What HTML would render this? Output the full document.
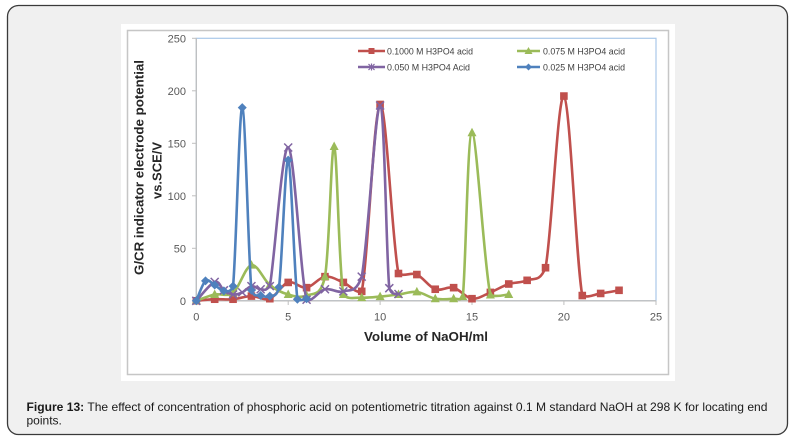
<!DOCTYPE html>
<html>
<head>
<meta charset="utf-8">
<style>
  html,body{margin:0;padding:0;background:#ffffff;}
  body{width:795px;height:439px;overflow:hidden;}
  svg{display:block;}
  text{font-family:"Liberation Sans",Arial,sans-serif;}
</style>
</head>
<body>
<svg id="chart" width="795" height="439" viewBox="0 0 795 439" xmlns="http://www.w3.org/2000/svg">
  <!-- outer card -->
  <rect x="7.5" y="5.5" width="780" height="429" rx="11" ry="11" fill="#f0f0f0" stroke="#3a3a3a" stroke-width="1.3"/>
  <!-- chart image area -->
  <rect x="121" y="24" width="554" height="357" fill="#ffffff"/>
  <rect x="127.5" y="30.5" width="541" height="344" fill="none" stroke="#c6c6c6" stroke-width="1.5"/>

  <!-- plot area -->
  <rect x="196.3" y="38.3" width="459.7" height="262.5" fill="none" stroke="#a9c8ea" stroke-width="1.2"/>
  <line x1="196.3" y1="38.3" x2="196.3" y2="300.8" stroke="#bfbfbf" stroke-width="1.3"/>
  <line x1="196.3" y1="300.8" x2="656" y2="300.8" stroke="#bfbfbf" stroke-width="1.3"/>

  <!-- ticks -->
  <g stroke="#bfbfbf" stroke-width="1">
    <line x1="192" y1="38.3" x2="196.3" y2="38.3"/>
    <line x1="192" y1="90.8" x2="196.3" y2="90.8"/>
    <line x1="192" y1="143.3" x2="196.3" y2="143.3"/>
    <line x1="192" y1="195.8" x2="196.3" y2="195.8"/>
    <line x1="192" y1="248.3" x2="196.3" y2="248.3"/>
    <line x1="192" y1="300.8" x2="196.3" y2="300.8"/>
    <line x1="196.3" y1="300.8" x2="196.3" y2="305"/>
    <line x1="288.2" y1="300.8" x2="288.2" y2="305"/>
    <line x1="380.1" y1="300.8" x2="380.1" y2="305"/>
    <line x1="472" y1="300.8" x2="472" y2="305"/>
    <line x1="563.9" y1="300.8" x2="563.9" y2="305"/>
    <line x1="656" y1="300.8" x2="656" y2="305"/>
  </g>

  <!-- y labels -->
  <g font-size="11" fill="#595959" text-anchor="end">
    <text x="186" y="42.3">250</text>
    <text x="186" y="94.8">200</text>
    <text x="186" y="147.3">150</text>
    <text x="186" y="199.8">100</text>
    <text x="186" y="252.3">50</text>
    <text x="186" y="304.8">0</text>
  </g>
  <!-- x labels -->
  <g font-size="11" fill="#595959" text-anchor="middle">
    <text x="196.3" y="320.5">0</text>
    <text x="288.2" y="320.5">5</text>
    <text x="380.1" y="320.5">10</text>
    <text x="472" y="320.5">15</text>
    <text x="563.9" y="320.5">20</text>
    <text x="656" y="320.5">25</text>
  </g>

  <!-- axis titles -->
  <text x="364" y="341" font-size="13" font-weight="bold" fill="#262626" textLength="124" lengthAdjust="spacingAndGlyphs">Volume of NaOH/ml</text>
  <text transform="translate(143.5,167.5) rotate(-90)" text-anchor="middle" font-size="13" font-weight="bold" fill="#262626" textLength="215" lengthAdjust="spacingAndGlyphs">G/CR indicator electrode potential</text>
  <text transform="translate(161.5,170.5) rotate(-90)" text-anchor="middle" font-size="13" font-weight="bold" fill="#262626" textLength="57" lengthAdjust="spacingAndGlyphs">vs.SCE/V</text>

  <!-- legend -->
  <g font-size="9" fill="#404040">
    <line x1="358" y1="51" x2="385" y2="51" stroke="#c0504d" stroke-width="2.5"/>
    <rect x="368.5" y="48" width="6" height="6" fill="#c0504d"/>
    <text x="387" y="54.5" textLength="86" lengthAdjust="spacingAndGlyphs">0.1000 M H3PO4 acid</text>

    <line x1="517" y1="51" x2="540" y2="51" stroke="#9bbb59" stroke-width="2.5"/>
    <polygon points="528.5,47 532.5,54 524.5,54" fill="#9bbb59"/>
    <text x="543" y="54.5" textLength="82" lengthAdjust="spacingAndGlyphs">0.075 M H3PO4 acid</text>

    <line x1="358" y1="67" x2="385" y2="67" stroke="#8064a2" stroke-width="2.5"/>
    <path d="M368.5,64 L374.5,70 M374.5,64 L368.5,70 M371.5,63.5 L371.5,70.5" stroke="#8064a2" stroke-width="1.2" fill="none"/>
    <text x="387" y="70.5" textLength="83" lengthAdjust="spacingAndGlyphs">0.050 M H3PO4 Acid</text>

    <line x1="517" y1="67" x2="540" y2="67" stroke="#4f81bd" stroke-width="2.5"/>
    <polygon points="528.5,63.5 532,67 528.5,70.5 525,67" fill="#4f81bd"/>
    <text x="543" y="70.5" textLength="82" lengthAdjust="spacingAndGlyphs">0.025 M H3PO4 acid</text>
  </g>

  <g id="series"></g>

  <!-- caption -->
  <text x="26.5" y="411" font-size="12" fill="#1a1a1a" textLength="741" lengthAdjust="spacingAndGlyphs"><tspan font-weight="bold">Figure 13:</tspan> The effect of concentration of phosphoric acid on potentiometric titration against 0.1 M standard NaOH at 298 K for locating end</text>
  <text x="26.5" y="424.5" font-size="12" fill="#1a1a1a">points.</text>
</svg>
<script>
(function(){
  var NS="http://www.w3.org/2000/svg";
  function px(x){return 196.3+x*18.38;}
  function py(y){return 300.8-y*1.05;}
  var series=[
    {c:"#c0504d",m:"sq",d:[[0,0],[1,1.5],[2,1.5],[3,4.5],[4,2],[5,17.5],[6,12.5],[7,23],[8,17.5],[9,9],[10,187],[11,26],[12,25],[13,11],[14,12.5],[15,2],[16,8],[17,16],[18,19.5],[19,31.5],[20,195],[21,5],[22,7],[23,10]]},
    {c:"#9bbb59",m:"tri",d:[[0,0],[1,6],[2,7.5],[3,34],[4,15],[5,6],[6,5],[7,23],[7.5,147],[8,6],[9,3],[10,4],[11,6],[12,8.5],[13,2],[14,2],[14.5,4],[15,160],[16,5.5],[17,6]]},
    {c:"#8064a2",m:"x",d:[[0,0],[1,18],[1.5,10],[2,6],[2.5,8],[3,14],[3.5,11],[4,14],[5,146],[6,1],[7,11],[8,9],[9,23],[10,186],[10.5,12],[11,6.5]]},
    {c:"#4f81bd",m:"dia",d:[[0,0],[0.5,19],[1,15],[1.5,9.5],[2,14],[2.5,184],[3,10],[3.5,5],[4,4.5],[4.5,13],[5,134],[5.5,1.5],[6,2]]}
  ];
  function clamp(v,a,b,m){var lo=Math.min(a,b)-m,hi=Math.max(a,b)+m;return Math.max(lo,Math.min(hi,v));}
  var g=document.getElementById("series");
  series.forEach(function(s){
    var p=s.d.map(function(a){return [px(a[0]),py(a[1])];});
    var d="M"+p[0][0].toFixed(2)+","+p[0][1].toFixed(2);
    for(var i=0;i<p.length-1;i++){
      var p0=p[i-1]||p[i],p1=p[i],p2=p[i+1],p3=p[i+2]||p[i+1];
      var c1x=p1[0]+(p2[0]-p0[0])/6,c1y=p1[1]+(p2[1]-p0[1])/6;
      var c2x=p2[0]-(p3[0]-p1[0])/6,c2y=p2[1]-(p3[1]-p1[1])/6;
      c1y=clamp(c1y,p1[1],p2[1],2.5);
      c2y=clamp(c2y,p1[1],p2[1],2.5);
      d+=" C"+c1x.toFixed(2)+","+c1y.toFixed(2)+" "+c2x.toFixed(2)+","+c2y.toFixed(2)+" "+p2[0].toFixed(2)+","+p2[1].toFixed(2);
    }
    var path=document.createElementNS(NS,"path");
    path.setAttribute("d",d);path.setAttribute("fill","none");
    path.setAttribute("stroke",s.c);path.setAttribute("stroke-width","2.6");
    path.setAttribute("stroke-linejoin","round");path.setAttribute("stroke-linecap","round");
    g.appendChild(path);
    p.forEach(function(q){
      var x=q[0],y=q[1],e;
      if(s.m==="sq"){
        e=document.createElementNS(NS,"rect");
        e.setAttribute("x",x-3.8);e.setAttribute("y",y-3.8);
        e.setAttribute("width",7.6);e.setAttribute("height",7.6);
        e.setAttribute("fill",s.c);
      }else if(s.m==="tri"){
        e=document.createElementNS(NS,"polygon");
        e.setAttribute("points",x+","+(y-5)+" "+(x+4.5)+","+(y+3.5)+" "+(x-4.5)+","+(y+3.5));
        e.setAttribute("fill",s.c);
      }else if(s.m==="dia"){
        e=document.createElementNS(NS,"polygon");
        e.setAttribute("points",x+","+(y-4.5)+" "+(x+4.5)+","+y+" "+x+","+(y+4.5)+" "+(x-4.5)+","+y);
        e.setAttribute("fill",s.c);
      }else{
        e=document.createElementNS(NS,"path");
        e.setAttribute("d","M"+(x-4)+","+(y-4)+" L"+(x+4)+","+(y+4)+" M"+(x+4)+","+(y-4)+" L"+(x-4)+","+(y+4));
        e.setAttribute("stroke",s.c);e.setAttribute("stroke-width","1.5");e.setAttribute("fill","none");
      }
      g.appendChild(e);
    });
  });
})();
</script>
</body>
</html>
